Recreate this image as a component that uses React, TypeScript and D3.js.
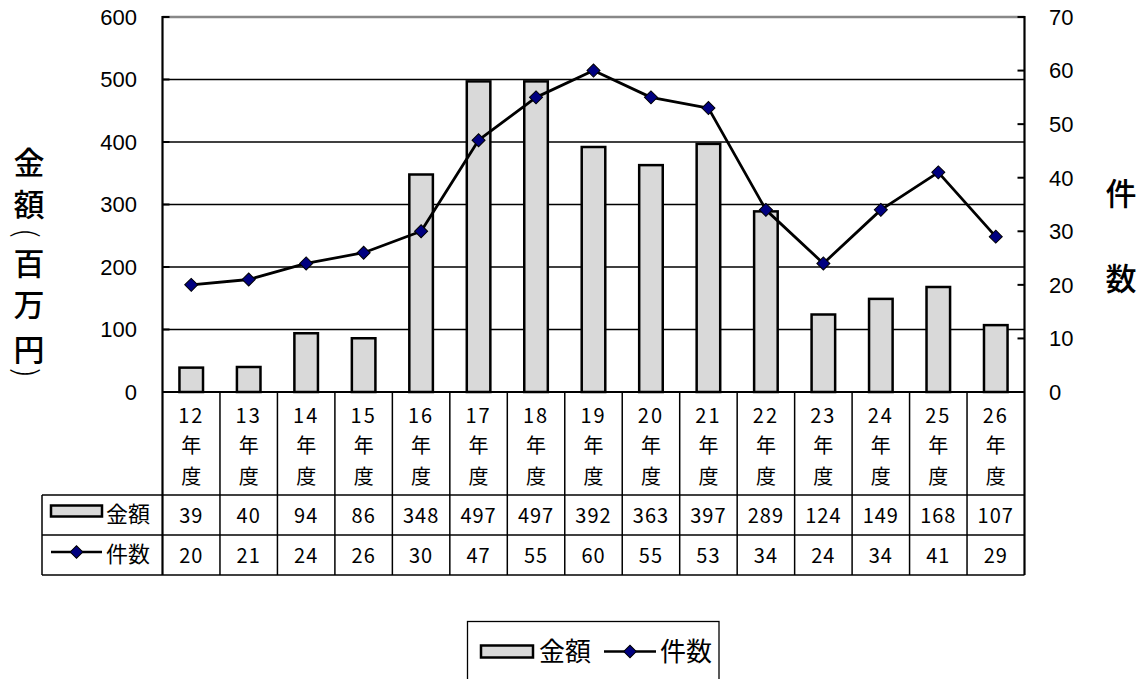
import React, { useEffect, useRef } from 'react';
import * as d3 from 'd3';

const years = ['12', '13', '14', '15', '16', '17', '18', '19', '20', '21', '22', '23', '24', '25', '26'];
const amounts = [39, 40, 94, 86, 348, 497, 497, 392, 363, 397, 289, 124, 149, 168, 107];
const counts = [20, 21, 24, 26, 30, 47, 55, 60, 55, 53, 34, 24, 34, 41, 29];
const leftTicks = [0, 100, 200, 300, 400, 500, 600];
const rightTicks = [0, 10, 20, 30, 40, 50, 60, 70];
const leftTitle = ['金', '額', '(', '百', '万', '円', ')'];
const rightTitle = ['件', '数'];
const seriesNames = ['金額', '件数'];

const NUM_FONT = "'Liberation Sans', Arial, sans-serif";
const JP_FONT = "'Noto Sans CJK JP', sans-serif";

const App: React.FC = () => {
  const ref = useRef<SVGSVGElement | null>(null);

  useEffect(() => {
    if (!ref.current) return;
    const svg = d3.select(ref.current);
    svg.selectAll('*').remove();

    const left = 162.5, right = 1024.5, top = 17, bottom = 392;

    const x = d3.scaleBand<string>().domain(years).range([left, right]).padding(0);
    const yL = d3.scaleLinear().domain([0, 600]).range([bottom, top]);
    const yR = d3.scaleLinear().domain([0, 70]).range([bottom, top]);
    const bw = x.bandwidth();
    const cx = (d: string) => (x(d) || 0) + bw / 2;

    // gridlines
    svg.append('g').selectAll('line')
      .data(leftTicks.filter(t => t > 0 && t < 600))
      .enter().append('line')
      .attr('x1', left).attr('x2', right)
      .attr('y1', d => yL(d)).attr('y2', d => yL(d))
      .attr('stroke', '#000').attr('stroke-width', 1.3);

    // top border (grey)
    svg.append('line')
      .attr('x1', left).attr('x2', right).attr('y1', top).attr('y2', top)
      .attr('stroke', '#888').attr('stroke-width', 2.5);

    // bars
    const barW = bw * 0.41;
    svg.append('g').selectAll('rect')
      .data(amounts)
      .enter().append('rect')
      .attr('x', (_, i) => cx(years[i]) - barW / 2)
      .attr('y', d => yL(d))
      .attr('width', barW)
      .attr('height', d => bottom - yL(d))
      .attr('fill', '#d9d9d9')
      .attr('stroke', '#000')
      .attr('stroke-width', 2.5);

    // axes lines
    svg.append('line').attr('x1', left).attr('x2', left).attr('y1', top - 1).attr('y2', 575)
      .attr('stroke', '#000').attr('stroke-width', 2.2);
    svg.append('line').attr('x1', right).attr('x2', right).attr('y1', top - 1).attr('y2', 575)
      .attr('stroke', '#000').attr('stroke-width', 2.2);

    // left ticks + labels
    const lt = svg.append('g');
    lt.selectAll('line').data(leftTicks).enter().append('line')
      .attr('x1', left).attr('x2', left + 7)
      .attr('y1', d => yL(d)).attr('y2', d => yL(d))
      .attr('stroke', '#000').attr('stroke-width', 2);
    lt.selectAll('text').data(leftTicks).enter().append('text')
      .attr('x', 137).attr('y', d => yL(d))
      .attr('dy', '0.36em')
      .attr('text-anchor', 'end')
      .style('font-family', NUM_FONT).style('font-size', '22px')
      .text(d => d);

    // right ticks + labels
    const rt = svg.append('g');
    rt.selectAll('line').data(rightTicks).enter().append('line')
      .attr('x1', right - 7).attr('x2', right)
      .attr('y1', d => yR(d)).attr('y2', d => yR(d))
      .attr('stroke', '#000').attr('stroke-width', 2);
    rt.selectAll('text').data(rightTicks).enter().append('text')
      .attr('x', 1049).attr('y', d => yR(d))
      .attr('dy', '0.36em')
      .attr('text-anchor', 'start')
      .style('font-family', NUM_FONT).style('font-size', '22px')
      .text(d => d);

    // axis titles (vertical, parentheses turned sideways)
    const ltY = [160, 202, 233, 261, 302, 347, 373];
    const isParen = (d: string) => d === '(' || d === ')';
    svg.append('g').selectAll('g').data(leftTitle).enter().append('g')
      .attr('transform', (d, i) => `translate(29,${ltY[i]})` + (isParen(d) ? ' rotate(90)' : ''))
      .append('text')
      .attr('dominant-baseline', 'central').attr('text-anchor', 'middle')
      .style('font-family', JP_FONT)
      .style('font-weight', d => isParen(d) ? 300 : 500)
      .style('font-size', d => isParen(d) ? '30px' : '31px')
      .text(d => d);
    const rtY = [191, 276];
    svg.append('g').selectAll('text').data(rightTitle).enter().append('text')
      .attr('x', 1121).attr('y', (_, i) => rtY[i])
      .attr('dominant-baseline', 'central').attr('text-anchor', 'middle')
      .style('font-family', JP_FONT).style('font-size', '31px').style('font-weight', 500)
      .text(d => d);

    // line series
    const line = d3.line<number>()
      .x((_, i) => cx(years[i]))
      .y(d => yR(d));
    svg.append('path').datum(counts)
      .attr('d', line)
      .attr('fill', 'none').attr('stroke', '#000').attr('stroke-width', 2.8)
      .attr('stroke-linejoin', 'round');

    const diamond = d3.symbol().type(d3.symbolSquare).size(85);
    svg.append('g').selectAll('path').data(counts).enter().append('path')
      .attr('d', diamond)
      .attr('transform', (d, i) => `translate(${cx(years[i])},${yR(d)}) rotate(45)`)
      .attr('fill', '#000080').attr('stroke', '#000').attr('stroke-width', 1);

    // data table
    const tbl = svg.append('g');
    const rowLines = [495, 535, 575];
    const keyLeft = 42;
    tbl.selectAll('line.h').data(rowLines).enter().append('line')
      .attr('x1', keyLeft).attr('x2', right)
      .attr('y1', d => d).attr('y2', d => d)
      .attr('stroke', '#000').attr('stroke-width', 1.5);
    // bottom of plot / top of table
    tbl.append('line').attr('x1', left).attr('x2', right).attr('y1', bottom).attr('y2', bottom)
      .attr('stroke', '#000').attr('stroke-width', 2.2);
    tbl.selectAll('line.v').data(years.slice(1)).enter().append('line')
      .attr('x1', d => x(d) || 0).attr('x2', d => x(d) || 0)
      .attr('y1', bottom).attr('y2', 575)
      .attr('stroke', '#000').attr('stroke-width', 1.5);
    tbl.append('line').attr('x1', keyLeft).attr('x2', keyLeft).attr('y1', 495).attr('y2', 575)
      .attr('stroke', '#000').attr('stroke-width', 1.5);

    const hdrY = [415.5, 446, 477];
    years.forEach(yr => {
      [yr, '年', '度'].forEach((s, j) => {
        tbl.append('text')
          .attr('x', cx(yr)).attr('y', hdrY[j]).attr('dy', '0.36em')
          .attr('text-anchor', 'middle')
          .style('font-family', JP_FONT).style('font-size', '20px')
          .style('letter-spacing', j === 0 ? '2px' : '0px')
          .text(s);
      });
    });
    [amounts, counts].forEach((vals, r) => {
      tbl.append('g').selectAll('text').data(vals).enter().append('text')
        .attr('x', (_, i) => cx(years[i])).attr('y', r === 0 ? 516 : 556)
        .attr('dy', '0.36em').attr('text-anchor', 'middle')
        .style('font-family', JP_FONT).style('font-size', '20px')
        .style('letter-spacing', '1px')
        .text(d => d);
    });

    // legend keys (shared drawing)
    const drawKeys = (g: d3.Selection<SVGGElement, unknown, null, undefined>, x0: number, y0: number, w: number, h: number, which: number, ds: number) => {
      if (which === 0) {
        g.append('rect').attr('x', x0).attr('y', y0 - h / 2).attr('width', w).attr('height', h)
          .attr('fill', '#d9d9d9').attr('stroke', '#000').attr('stroke-width', 2.5);
      } else {
        g.append('line').attr('x1', x0).attr('x2', x0 + w).attr('y1', y0).attr('y2', y0)
          .attr('stroke', '#000').attr('stroke-width', 2.5);
        g.append('path').attr('d', d3.symbol().type(d3.symbolSquare).size(ds)())
          .attr('transform', `translate(${x0 + w / 2},${y0}) rotate(45)`)
          .attr('fill', '#000080').attr('stroke', '#000').attr('stroke-width', 1);
      }
    };
    const tk = svg.append('g');
    drawKeys(tk, 51, 511, 51, 11, 0, 0);
    drawKeys(tk, 51, 552, 51, 0, 1, 80);
    seriesNames.forEach((s, i) => {
      tk.append('text').attr('x', 106).attr('y', i === 0 ? 514 : 554).attr('dy', '0.36em')
        .style('font-family', JP_FONT).style('font-size', '22px')
        .text(s);
    });

    // bottom legend
    const lg = svg.append('g');
    lg.append('rect').attr('x', 467.5).attr('y', 621.5).attr('width', 251.5).attr('height', 80)
      .attr('fill', '#fff').attr('stroke', '#000').attr('stroke-width', 1.3);
    drawKeys(lg, 481, 651.5, 52, 12, 0, 0);
    lg.append('text').attr('x', 539).attr('y', 652).attr('dy', '0.36em')
      .style('font-family', JP_FONT).style('font-size', '26px').text(seriesNames[0]);
    drawKeys(lg, 604, 651.5, 52, 0, 1, 80);
    lg.append('text').attr('x', 660).attr('y', 652).attr('dy', '0.36em')
      .style('font-family', JP_FONT).style('font-size', '26px').text(seriesNames[1]);
  }, []);

  return (
    <svg
      ref={ref}
      width={1147}
      height={679}
      style={{ position: 'absolute', left: 0, top: 0, background: '#fff', display: 'block' }}
    />
  );
};

export default App;
